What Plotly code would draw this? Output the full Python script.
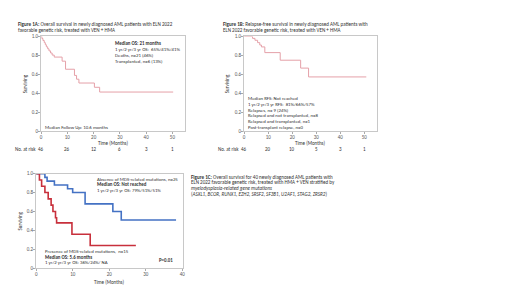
import plotly.graph_objects as go

W, H = 520, 292

# ---------- data ----------
# Figure 1A: overall survival (step curve)
a_time = [0, 0.3, 0.7, 1.2, 1.6, 2.0, 2.5, 3.0, 3.6, 4.2, 5.0, 8.0, 9.3, 12.7, 13.5, 14.4, 20.3, 22.3, 50.3]
a_surv = [1.0, 0.978, 0.957, 0.935, 0.913, 0.891, 0.87, 0.848, 0.826, 0.804, 0.783, 0.74, 0.655, 0.59, 0.55, 0.51, 0.465, 0.415, 0.415]
a_risk_t = [0, 10, 20, 30, 40, 50]
a_risk_n = ["46", "26", "12", "6", "3", "1"]

# Figure 1B: relapse-free survival
b_time = [0, 3.5, 4.5, 5.6, 6.5, 7.2, 8.6, 15.0, 23.5, 26.8, 50.8]
b_surv = [1.0, 0.98, 0.96, 0.935, 0.91, 0.89, 0.83, 0.75, 0.667, 0.574, 0.574]
b_risk_t = [0, 10, 20, 30, 40, 50]
b_risk_n = ["46", "20", "10", "5", "3", "1"]

# Figure 1C: OS by MDS-related mutations
c_abs_time = [0, 2.4, 3.0, 5.0, 8.6, 10.0, 13.4, 21.0, 23.3, 38.3]
c_abs_surv = [1.0, 0.96, 0.92, 0.88, 0.84, 0.80, 0.68, 0.60, 0.51, 0.51]
c_pre_time = [0, 0.9, 1.5, 2.4, 3.3, 4.1, 4.6, 5.3, 5.6, 9.8, 14.8, 27.3]
c_pre_surv = [1.0, 0.933, 0.867, 0.80, 0.733, 0.667, 0.60, 0.533, 0.48, 0.36, 0.24, 0.24]

y_tickvals = [0, 0.2, 0.4, 0.6, 0.8, 1.0]
y_ticktext = ["0", "0.2", "0.4", "0.6", "0.8", "1.0"]
ab_xticks = [0, 10, 20, 30, 40, 50]
c_xticks = [0, 10, 20, 30, 40]

FONT = "Carlito, 'Liberation Sans Narrow', 'Liberation Sans', Arial, sans-serif"
PINK = "#e5a0a8"
BLUE = "#4472c4"
RED = "#c8303c"
TXT = "#333333"

S_TITLE = 5.1
S_TXT = 4.85
S_AX = 5.0


def px(x):
    return x / W


def py(y):
    return 1 - y / H


fig = go.Figure()

fig.add_trace(go.Scatter(x=a_time, y=a_surv, mode="lines", line=dict(shape="hv", color=PINK, width=1),
                         xaxis="x", yaxis="y", showlegend=False))
fig.add_trace(go.Scatter(x=b_time, y=b_surv, mode="lines", line=dict(shape="hv", color=PINK, width=1),
                         xaxis="x2", yaxis="y2", showlegend=False))
fig.add_trace(go.Scatter(x=c_abs_time, y=c_abs_surv, mode="lines", line=dict(shape="hv", color=BLUE, width=1.6),
                         xaxis="x3", yaxis="y3", showlegend=False))
fig.add_trace(go.Scatter(x=c_pre_time, y=c_pre_surv, mode="lines", line=dict(shape="hv", color=RED, width=1.6),
                         xaxis="x3", yaxis="y3", showlegend=False))

tickfont = dict(family=FONT, size=S_AX, color="#555555")
common_ax = dict(showline=True, linecolor="#c8c8c8", linewidth=1, mirror=True, showgrid=False,
                 zeroline=False, ticks="outside", ticklen=2, tickcolor="#aaaaaa", tickfont=tickfont,
                 ticklabelstandoff=-1)

fig.update_layout(
    width=W, height=H, margin=dict(l=0, r=0, t=0, b=0),
    paper_bgcolor="white", plot_bgcolor="white",
    xaxis=dict(domain=[px(32.3), px(177)], range=[0, 54.8], tickvals=ab_xticks, anchor="y", **common_ax),
    yaxis=dict(domain=[py(123), py(26)], range=[0, 1], tickvals=y_tickvals, ticktext=y_ticktext, anchor="x", **common_ax),
    xaxis2=dict(domain=[px(236.5), px(370)], range=[0, 55.2], tickvals=ab_xticks, anchor="y2", **common_ax),
    yaxis2=dict(domain=[py(123), py(26)], range=[0, 1], tickvals=y_tickvals, ticktext=y_ticktext, anchor="x2", **common_ax),
    xaxis3=dict(domain=[px(27.3), px(175)], range=[0, 40.2], tickvals=c_xticks, anchor="y3", **common_ax),
    yaxis3=dict(domain=[py(262.7), py(166)], range=[0, 1], tickvals=y_tickvals, ticktext=y_ticktext, anchor="x3", **common_ax),
)

ann = []


def text(x, y, s, size=S_TXT, xanchor="left", angle=0, color=TXT):
    ann.append(dict(x=px(x), y=py(y), xref="paper", yref="paper", text=s, showarrow=False,
                    xanchor=xanchor, yanchor="middle", textangle=angle,
                    font=dict(family=FONT, size=size, color=color)))


# Titles
text(7, 13, "<b>Figure 1A:</b> Overall survival in newly diagnosed AML patients with ELN 2022", S_TITLE)
text(7, 19.5, "favorable genetic risk, treated with VEN + HMA", S_TITLE)
text(213, 13, "<b>Figure 1B:</b> Relapse-free survival in newly diagnosed AML patients with", S_TITLE)
text(213, 19.5, "ELN 2022 favorable genetic risk, treated with VEN + HMA", S_TITLE)
text(181, 169, "<b>Figure 1C:</b> Overall survival for 40 newly diagnosed AML patients with", S_TITLE)
text(181, 175, "ELN 2022 favorable genetic risk, treated with HMA + VEN stratified by", S_TITLE)
text(181, 181, "<i>myelodysplasia-related gene mutations</i>", S_TITLE)
text(181, 187.3, "(<i>ASXL1, BCOR, RUNX1, EZH2, SRSF2, SF3B1, U2AF1, STAG2, ZRSR2</i>)", S_TITLE)

# Panel A annotations
text(105, 33, "<b>Median OS: 21 months</b>")
text(105, 39, "1 yr/2 yr/3 yr OS:  65%/41%/41%")
text(105, 45, "Deaths, n=21 (46%)")
text(105, 51, "Transplanted, n=6 (13%)")
text(34, 118, "Median Follow Up: 10.6 months")

# Panel B annotations
b_lines = ["Median RFS: Not reached", "1 yr/2 yr/3 yr RFS:  81%/66%/57%", "Relapses, n= 9 (24%)",
           "Relapsed and not transplanted, n=8", "Relapsed and transplanted, n=1", "Post-transplant relapse, n=0"]
for i, s in enumerate(b_lines):
    text(238.5, 89 + i * 5.85, s)

# Panel C annotations
text(86, 171.7, "Absence of MDS-related mutations, n=25")
text(86, 177, "<b>Median OS: Not reached</b>")
text(86, 182.7, "1 yr/2 yr/3 yr OS: 79%/51%/51%")
text(34.3, 245, "Presence of MDS-related mutations,  n=15")
text(34.3, 251, "<b>Median OS: 5.6 months</b>")
text(34.3, 256.7, "1 yr/2 yr/3 yr OS: 36%/24%/ NA")
text(149, 254.3, "<b>P=0.01</b>")

# axis titles
text(104.6, 134.5, "Time (Months)", S_AX, xanchor="center")
text(303, 134.5, "Time (Months)", S_AX, xanchor="center")
text(101, 277, "Time (Months)", S_AX, xanchor="center")
text(16.5, 74.5, "Surviving", S_AX, xanchor="center", angle=-90)
text(219.5, 74.5, "Surviving", S_AX, xanchor="center", angle=-90)
text(11, 214, "Surviving", S_AX, xanchor="center", angle=-90)

# number at risk rows
text(4.5, 141, "No. at risk", S_AX)
for t, n in zip(a_risk_t, a_risk_n):
    ann.append(dict(x=t, y=py(141), xref="x", yref="paper", text=n, showarrow=False, xanchor="center",
                    yanchor="middle", font=dict(family=FONT, size=S_AX, color=TXT)))
text(208, 141, "No. at risk", S_AX)
for t, n in zip(b_risk_t, b_risk_n):
    ann.append(dict(x=t, y=py(141), xref="x2", yref="paper", text=n, showarrow=False, xanchor="center",
                    yanchor="middle", font=dict(family=FONT, size=S_AX, color=TXT)))

fig.update_layout(annotations=ann)
fig.write_html("out.html")
